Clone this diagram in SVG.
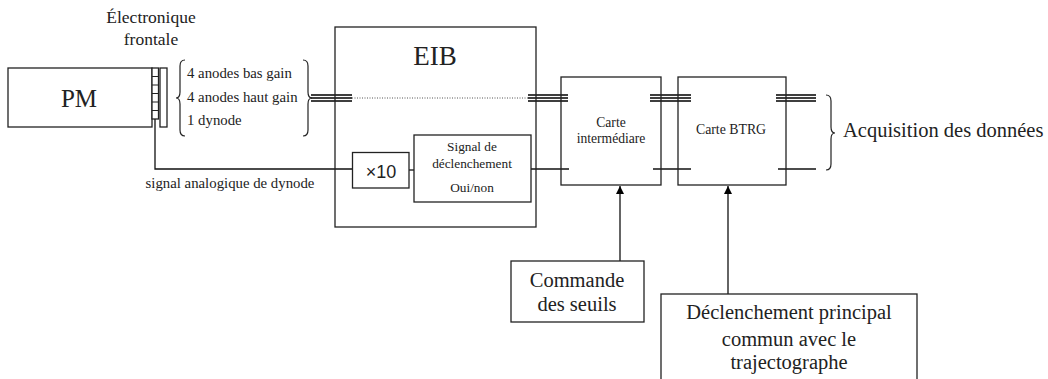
<svg xmlns="http://www.w3.org/2000/svg" width="1048" height="379" viewBox="0 0 1048 379">
<defs>
<style>
.box{fill:#fff;stroke:#222;stroke-width:1.3}
.open{fill:none;stroke:#222;stroke-width:1.3}
.ln{fill:none;stroke:#111;stroke-width:1.3}
.bus{fill:none;stroke:#000;stroke-width:1.6}
.br{fill:none;stroke:#222;stroke-width:1.2}
text{fill:#222}
</style>
<marker id="ah" viewBox="0 0 10 10" refX="10" refY="5" markerWidth="8" markerHeight="10" markerUnits="userSpaceOnUse" orient="auto">
<path d="M0,0 L10,5 L0,10 z" fill="#000"/>
</marker>
</defs>
<rect width="1048" height="379" fill="#fff"/>

<g id="connectors">
<path class="ln" d="M155 119 V169 H352"/>
<line class="ln" x1="409" y1="170" x2="414" y2="170"/>
<line class="ln" x1="531" y1="169" x2="569" y2="169"/>
<line class="ln" x1="653" y1="169" x2="691" y2="169"/>
<line class="ln" x1="778" y1="169" x2="816" y2="169"/>
<g class="bus">
<path d="M311 95 H352 M311 98 H352 M311 101 H352"/>
<path d="M528 95 H568 M528 98 H568 M528 101 H568"/>
<path d="M650 95 H691 M650 98 H691 M650 101 H691"/>
<path d="M776 95 H816 M776 98 H816 M776 101 H816"/>
</g>
<line x1="352" y1="98" x2="528" y2="98" stroke="#555" stroke-width="1" stroke-dasharray="1,1.5"/>
<line class="ln" x1="620" y1="261" x2="620" y2="186" marker-end="url(#ah)"/>
<line class="ln" x1="728" y1="294" x2="728" y2="186" marker-end="url(#ah)"/>
</g>

<g font-family="Liberation Serif, DejaVu Serif, serif">
<g id="pm">
<rect class="box" x="8" y="68" width="144" height="59"/>
<text x="79" y="107" font-size="25" text-anchor="middle">PM</text>
</g>

<g id="electronique">
<rect class="box" x="152" y="68" width="6.5" height="51"/>
<path class="br" d="M152 76.5 H158.5 M152 85 H158.5 M152 93.5 H158.5 M152 102 H158.5 M152 110.5 H158.5"/>
<rect class="box" x="160" y="68" width="7" height="59"/>
<text x="151" y="23" font-size="17.5" text-anchor="middle">Électronique</text>
<text x="151" y="45" font-size="17.5" text-anchor="middle">frontale</text>
</g>

<g id="signaux">
<path class="br" d="M185 60 Q180 60 180 66 L180 92 Q180 98 176 98 Q180 98 180 104 L180 130 Q180 136 185 136"/>
<path class="br" d="M303 60 Q308 60 308 66 L308 92 Q308 98 312 98 Q308 98 308 104 L308 130 Q308 136 303 136"/>
<text x="187" y="78" font-size="14.8">4 anodes bas gain</text>
<text x="187" y="102" font-size="14.8">4 anodes haut gain</text>
<text x="187" y="125" font-size="14.8">1 dynode</text>
<text x="230" y="188" font-size="14.8" text-anchor="middle">signal analogique de dynode</text>
</g>

<g id="eib">
<rect class="open" x="335" y="27" width="201" height="200"/>
<text x="435" y="65" font-size="27" text-anchor="middle">EIB</text>
</g>

<g id="x10">
<rect class="box" x="352.5" y="152.5" width="56.5" height="35.5"/>
<text x="381" y="178" font-size="18" font-family="Liberation Sans, Arial, sans-serif" text-anchor="middle" fill="#111">×10</text>
</g>

<g id="signal-declenchement">
<rect class="box" x="414" y="135" width="117" height="67"/>
<text x="472" y="151" font-size="13.3" text-anchor="middle">Signal de</text>
<text x="472" y="168" font-size="13.3" text-anchor="middle">déclenchement</text>
<text x="472" y="192" font-size="13.3" text-anchor="middle">Oui/non</text>
</g>

<g id="carte-intermediaire">
<rect class="open" x="561" y="77" width="100" height="108"/>
<text x="611" y="127" font-size="13.6" text-anchor="middle">Carte</text>
<text x="611" y="143" font-size="13.6" text-anchor="middle">intermédiare</text>
</g>

<g id="carte-btrg">
<rect class="open" x="678" y="77" width="108" height="108"/>
<text x="731" y="134" font-size="13.8" text-anchor="middle">Carte BTRG</text>
</g>

<g id="acquisition">
<path class="br" d="M826 95 Q831 95 831 101 L831 127 Q831 133 835 133 Q831 133 831 139 L831 164 Q831 170 826 170"/>
<text x="843" y="137" font-size="20.5">Acquisition des données</text>
</g>

<g id="commande">
<rect class="box" x="511" y="261" width="133" height="61"/>
<text x="577" y="287" font-size="20.5" text-anchor="middle">Commande</text>
<text x="577" y="311" font-size="20.5" text-anchor="middle">des seuils</text>
</g>

<g id="declenchement-principal">
<rect class="box" x="661" y="294" width="256" height="95"/>
<text x="789" y="319" font-size="20.5" text-anchor="middle">Déclenchement principal</text>
<text x="789" y="346" font-size="20.5" text-anchor="middle">commun avec le</text>
<text x="789" y="369" font-size="20.5" text-anchor="middle">trajectographe</text>
</g>
</g>
</svg>
